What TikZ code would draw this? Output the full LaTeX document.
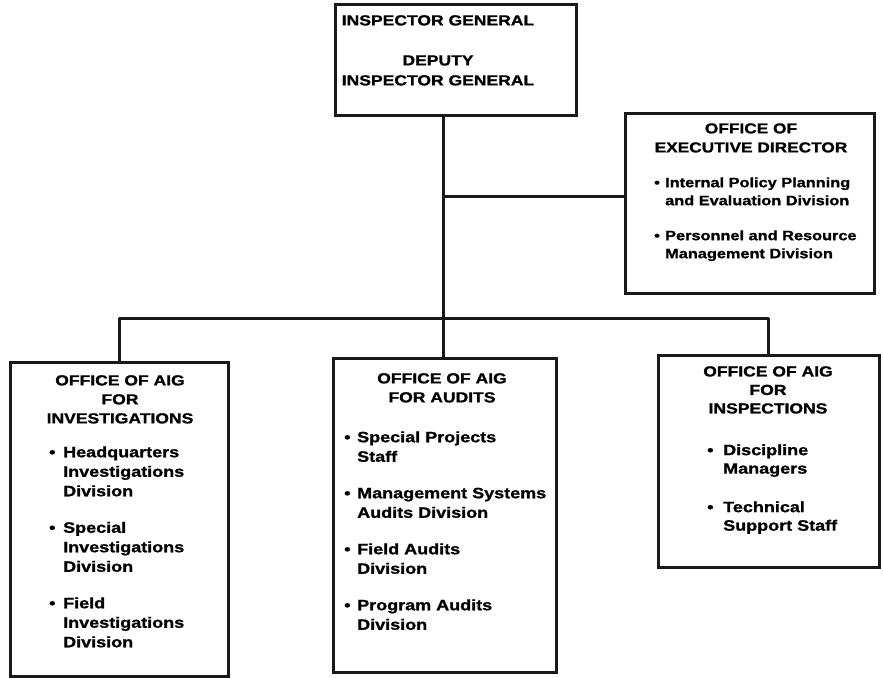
\documentclass[tikz,border=0pt]{standalone}
\usepackage{fontspec}
\newfontfamily\chartfont{Liberation Sans}[FakeStretch=1.2,FakeBold=1.2]
\begin{document}
\begin{tikzpicture}[x=1pt,y=-1pt,
  box/.style={draw=black!90, line width=3pt, inner sep=0pt},
  link/.style={draw=black!90, line width=3pt, line join=round},
  head/.style={inner sep=0pt, anchor=north, font=\chartfont\bfseries\fontsize{14.6}{19}\selectfont},
  items/.style={inner sep=0pt, anchor=north west, font=\chartfont\bfseries\fontsize{15}{19.5}\selectfont}]
\useasboundingbox (0,0) rectangle (883,677);
\fill[white] (0,0) rectangle (883,677);

% boxes
\node[box, minimum width=241pt, minimum height=110pt] (topbox) at (455.5,60) {};
\node[box, minimum width=249pt, minimum height=180pt] (execbox) at (749.5,203) {};
\node[box, minimum width=218pt, minimum height=314pt] (invbox) at (119,519) {};
\node[box, minimum width=223pt, minimum height=314pt] (audbox) at (444.5,515) {};
\node[box, minimum width=221pt, minimum height=212pt] (inspbox) at (768.5,461) {};

% junctions
\coordinate (spine) at (443,318);
\coordinate (branch) at (443,196);

% connectors
\draw[link] (topbox.south -| spine) -- (audbox.north -| spine);
\draw[link] (branch) -- (execbox.west |- branch);
\draw[link] (invbox.north) -- (invbox.north |- spine) -- (inspbox.north |- spine) -- (inspbox.north);

% texts
\node[head, font=\chartfont\bfseries\fontsize{14.6}{20}\selectfont] (toptext) at (438,11.2)
  {\begin{tabular}{@{}c@{}}INSPECTOR GENERAL\\[20pt] DEPUTY\\ INSPECTOR GENERAL\end{tabular}};

\node[head, font=\chartfont\bfseries\fontsize{14.4}{19}\selectfont] (exechead) at (751,119.9)
  {\begin{tabular}{@{}c@{}}OFFICE OF\\ EXECUTIVE DIRECTOR\end{tabular}};
\node[items, font=\chartfont\bfseries\fontsize{13.6}{18}\selectfont] (execitems) at (654,174.4)
  {\begin{tabular}{@{}p{11pt}@{}l@{}}
  \textbullet & Internal Policy Planning\\ & and Evaluation Division\\[17pt]
  \textbullet & Personnel and Resource\\ & Management Division
  \end{tabular}};

\node[head] (invhead) at (120,371.9)
  {\begin{tabular}{@{}c@{}}OFFICE OF AIG\\ FOR\\ INVESTIGATIONS\end{tabular}};
\node[items] (invitems) at (49,443.4)
  {\begin{tabular}{@{}p{14pt}@{}l@{}}
  \textbullet & Headquarters\\ & Investigations\\ & Division\\[17pt]
  \textbullet & Special\\ & Investigations\\ & Division\\[17pt]
  \textbullet & Field\\ & Investigations\\ & Division
  \end{tabular}};

\node[head] (audhead) at (442,369.9)
  {\begin{tabular}{@{}c@{}}OFFICE OF AIG\\ FOR AUDITS\end{tabular}};
\node[items] (auditems) at (344,428.4)
  {\begin{tabular}{@{}p{13pt}@{}l@{}}
  \textbullet & Special Projects\\ & Staff\\[17pt]
  \textbullet & Management Systems\\ & Audits Division\\[17pt]
  \textbullet & Field Audits\\ & Division\\[17pt]
  \textbullet & Program Audits\\ & Division
  \end{tabular}};

\node[head, font=\chartfont\bfseries\fontsize{14.6}{18.5}\selectfont] (insphead) at (768,363.3)
  {\begin{tabular}{@{}c@{}}OFFICE OF AIG\\ FOR\\ INSPECTIONS\end{tabular}};
\node[items, font=\chartfont\bfseries\fontsize{15}{18.5}\selectfont] (inspitems) at (707,442)
  {\begin{tabular}{@{}p{16pt}@{}l@{}}
  \textbullet & Discipline\\ & Managers\\[20pt]
  \textbullet & Technical\\ & Support Staff
  \end{tabular}};
\end{tikzpicture}
\end{document}
